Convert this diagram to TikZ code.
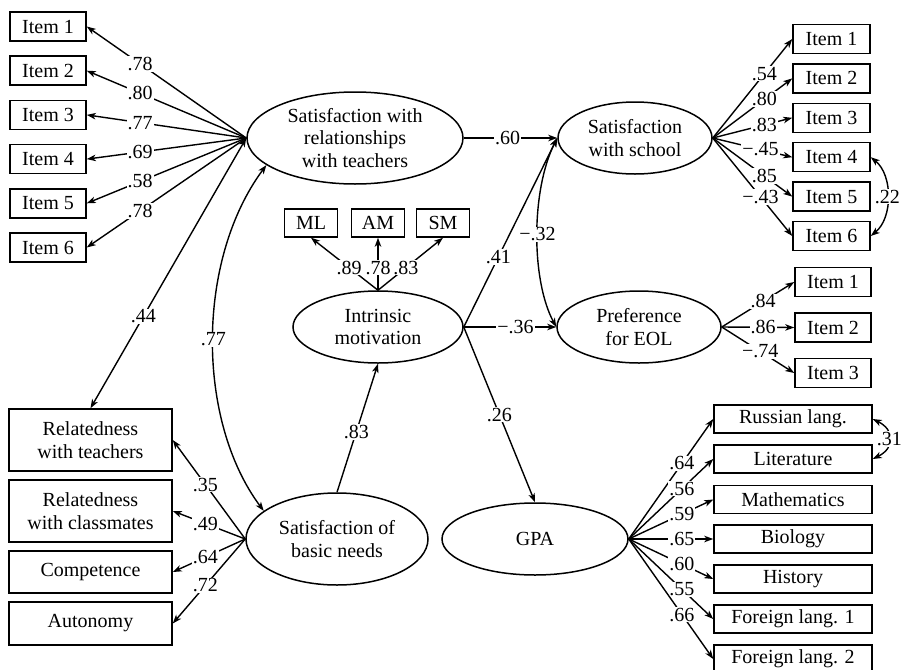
\documentclass[tikz,border=0pt]{standalone}
\usepackage{fontspec}
\setmainfont{Liberation Serif}
\usetikzlibrary{arrows.meta,shapes.geometric}
\begin{document}
\begin{tikzpicture}[x=1pt,y=-1pt,
  >={Stealth[length=9pt,width=6.5pt,inset=2.5pt]},
  every node/.style={font=\fontsize{20}{22.5}\selectfont},
  conn/.style={line width=1.4pt},
  lat/.style={ellipse,draw,line width=1.5pt,inner sep=0pt,align=center},
  obs/.style={rectangle,draw,line width=1.5pt,inner sep=0pt,align=center},
  lbl/.style={fill=white,inner sep=1pt}]
\fill[white] (0,0) rectangle (906,670);
\useasboundingbox (0,0) rectangle (906,670);

% latent variables
\node[lat,minimum width=216pt,minimum height=92pt] (e1) at (355,138) {Satisfaction with\\relationships\\with teachers};
\node[lat,minimum width=154pt,minimum height=72pt] (e2) at (635,138) {Satisfaction\\with school};
\node[lat,minimum width=170pt,minimum height=72pt] (e3) at (378,327) {Intrinsic\\motivation};
\node[lat,minimum width=164pt,minimum height=72pt] (e4) at (639,327) {Preference\\for EOL};
\node[lat,minimum width=182pt,minimum height=92pt] (e5) at (337,539) {Satisfaction of\\basic needs};
\node[lat,minimum width=186pt,minimum height=72pt] (e6) at (535,539) {GPA};

% left items
\foreach \i/\y in {1/26.5,2/70.7,3/114.9,4/159.1,5/203.3,6/247.5}
  \node[obs,minimum width=76pt,minimum height=29pt] (l\i) at (48,\y) {Item \i};
% school items
\foreach \i/\y in {1/39,2/78.4,3/117.8,4/157.2,5/196.6,6/236}
  \node[obs,minimum width=77pt,minimum height=29pt] (s\i) at (831.5,\y) {Item \i};
% intrinsic indicators
\node[obs,minimum width=53pt,minimum height=28pt] (ml) at (311,223) {ML};
\node[obs,minimum width=53pt,minimum height=28pt] (am) at (378,223) {AM};
\node[obs,minimum width=53pt,minimum height=28pt] (sm) at (443,223) {SM};
% EOL items
\foreach \i/\y in {1/282,2/327.5,3/373}
  \node[obs,minimum width=76pt,minimum height=29pt] (p\i) at (833,\y) {Item \i};
% GPA items
\node[obs,minimum width=158pt,minimum height=28pt] (g1) at (793,419) {Russian lang.};
\node[obs,minimum width=158pt,minimum height=28pt] (g2) at (793,459) {Literature};
\node[obs,minimum width=158pt,minimum height=28pt] (g3) at (793,499.5) {Mathematics};
\node[obs,minimum width=158pt,minimum height=28pt] (g4) at (793,539) {Biology};
\node[obs,minimum width=158pt,minimum height=28pt] (g5) at (793,579) {History};
\node[obs,minimum width=158pt,minimum height=28pt] (g6) at (793,619) {Foreign lang. 1};
\node[obs,minimum width=158pt,minimum height=28pt] (g7) at (793,659) {Foreign lang. 2};
% basic needs indicators
\node[obs,minimum width=163pt,minimum height=62pt] (b1) at (90.5,440) {Relatedness\\with teachers};
\node[obs,minimum width=163pt,minimum height=62pt] (b2) at (90.5,511) {Relatedness\\with classmates};
\node[obs,minimum width=163pt,minimum height=42pt] (b3) at (90.5,572) {Competence};
\node[obs,minimum width=163pt,minimum height=43pt] (b4) at (90.5,623.5) {Autonomy};

% loadings
\foreach \i/\v in {1/.78,2/.80,3/.77,4/.69,5/.58,6/.78}
  \draw[conn,->] (e1.west) -- node[lbl,pos=0.665] {\v} (l\i.east);
\foreach \i/\v/\p in {1/.54/0.65,2/.80/0.65,3/.83/0.65,4/−.45/0.6,5/.85/0.65,6/−.43/0.6}
  \draw[conn,->] (e2.east) -- node[lbl,pos=\p] {\v} (s\i.east -| s\i.west);
\draw[conn,->] (e3.north) -- node[lbl,pos=0.43] {.89} (ml.south);
\draw[conn,->] (e3.north) -- node[lbl,pos=0.43] {.78} (am.south);
\draw[conn,->] (e3.north) -- node[lbl,pos=0.43] {.83} (sm.south);
\foreach \i/\v/\p in {1/.84/0.57,2/.86/0.57,3/−.74/0.53}
  \draw[conn,->] (e4.east) -- node[lbl,pos=\p] {\v} (p\i.west);
\foreach \i/\v in {1/.64,2/.56,3/.59,4/.65,5/.60,6/.55,7/.66}
  \draw[conn,->] (e6.east) -- node[lbl,pos=0.63] {\v} (g\i.west);
\foreach \i/\v in {1/.35,2/.49,3/.64,4/.72}
  \draw[conn,->] (e5.west) -- node[lbl,pos=0.55] {\v} (b\i.east);

% structural paths
\draw[conn,->] (e1.east) -- node[lbl,pos=0.47] {.60} (e2.west);
\draw[conn,->] (e3.east) -- node[lbl,pos=0.37] {.41} (e2.west);
\draw[conn,->] (e3.east) -- node[lbl,pos=0.56] {−.36} (e4.west);
\draw[conn,->] (e3.east) -- node[lbl,pos=0.5] {.26} (e6.north);
\draw[conn,->] (e5.north) -- node[lbl,pos=0.47] {.83} (e3.south);
\draw[conn,<->] (e1.west) -- node[lbl,pos=0.66] {.44} (b1.north);

% covariances
\draw[conn,<->] (e1.197) .. controls (196,260) and (196,420) .. node[lbl] {.77} (e5.159);
\draw[conn,<->] (e2.west) .. controls (531,190) and (531,280) .. node[lbl] {−.32} (e4.west);
\draw[conn,<->] (s4.east) .. controls (893,175) and (893,218) .. node[lbl] {.22} (s6.east);
\draw[conn,<->] (g1.east) .. controls (895,430) and (895,448) .. node[lbl] {.31} (g2.east);
\end{tikzpicture}
\end{document}
